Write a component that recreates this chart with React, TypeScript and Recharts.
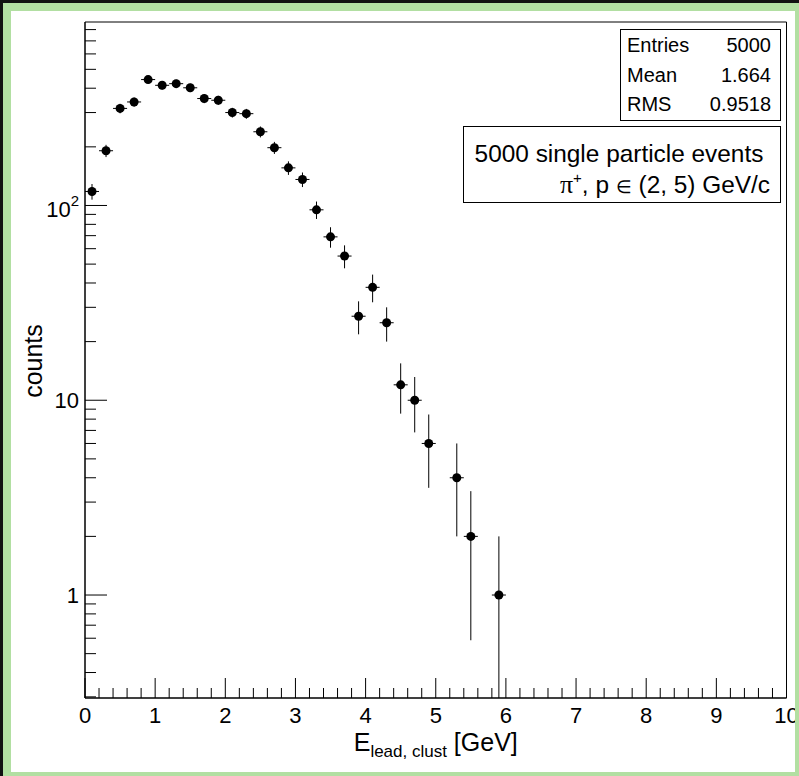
import React from 'react';
import { ScatterChart, Scatter, XAxis, YAxis, ErrorBar, ReferenceArea, Label } from 'recharts';

// histogram bins (centres, GeV) that have entries, and their counts
const BIN_CENTERS = [0.1, 0.3, 0.5, 0.7, 0.9, 1.1, 1.3, 1.5, 1.7, 1.9, 2.1, 2.3, 2.5, 2.7, 2.9, 3.1, 3.3, 3.5, 3.7, 3.9, 4.1, 4.3, 4.5, 4.7, 4.9, 5.3, 5.5, 5.9];
const COUNTS = [118, 191, 315, 340, 443, 414, 422, 402, 354, 347, 300, 296, 239, 198, 156, 136, 95, 69, 55, 27, 38, 25, 12, 10, 6, 4, 2, 1];
const BIN_HALF_WIDTH = 0.1;

const X_MAJOR = [0, 1, 2, 3, 4, 5, 6, 7, 8, 9, 10];
const X_LABELS = ['0', '1', '2', '3', '4', '5', '6', '7', '8', '9', '10'];
const Y_MAJOR = [1, 10, 100];
const Y_LABELS = ['1', '10', '10'];
const Y_EXPONENTS = ['', '', '2'];

const STAT_NAMES = ['Entries', 'Mean', 'RMS'];
const STAT_VALUES = ['5000', '1.664', '0.9518'];

const Y_MIN = 0.296;
const Y_MAX = 875;

const X_TICKS: number[] = [];
for (let i = 0; i <= 50; i++) X_TICKS.push(i / 5);

const Y_TICKS: number[] = [];
for (const p of [0.1, 1, 10, 100]) {
  for (let m = 1; m <= 9; m++) {
    const v = Number((m * p).toPrecision(2));
    if (v >= Y_MIN && v <= Y_MAX) Y_TICKS.push(v);
  }
}

const data = BIN_CENTERS.map((x, i) => {
  const n = COUNTS[i];
  const err = Math.sqrt(n);
  // lower error clipped at the bottom of the frame (log axis)
  return { x, y: n, ex: BIN_HALF_WIDTH, ey: [Math.min(err, n - Y_MIN), err] };
});

const FONT = '"Liberation Sans", Arial, Helvetica, sans-serif';

const XTick = (props: any) => {
  const { x, y, payload } = props;
  const idx = X_MAJOR.findIndex((m) => Math.abs(m - payload.value) < 1e-6);
  const major = idx >= 0;
  return (
    <g>
      <line x1={x} x2={x} y1={y} y2={y - (major ? 20 : 10)} stroke="#000" strokeWidth={1} />
      {major && (
        <text x={x} y={y + 25} textAnchor="middle" fontSize={22} fontFamily={FONT} fill="#000">
          {X_LABELS[idx]}
        </text>
      )}
    </g>
  );
};

const YTick = (props: any) => {
  const { x, y, payload } = props;
  const v = payload.value;
  const idx = Y_MAJOR.findIndex((m) => Math.abs(m - v) < 1e-9 * m);
  const major = idx >= 0;
  return (
    <g>
      <line x1={x} x2={x + (major ? 22 : 11)} y1={y} y2={y} stroke="#000" strokeWidth={1} />
      {major && (
        <text x={x - 6} y={y + (Y_EXPONENTS[idx] ? 12 : 8)} textAnchor="end" fontSize={22} fontFamily={FONT} fill="#000">
          {Y_LABELS[idx]}
          {Y_EXPONENTS[idx] && (
            <tspan fontSize={15} dy={-11}>{Y_EXPONENTS[idx]}</tspan>
          )}
        </text>
      )}
    </g>
  );
};

const Marker = (props: any) => <circle cx={props.cx} cy={props.cy} r={4.5} fill="#000" />;

export default function App() {
  return (
    <div style={{ position: 'fixed', left: 0, top: 0, width: 799, height: 776, background: '#fff', fontFamily: FONT }}>
      <ScatterChart width={799} height={776} margin={{ top: 22, right: 12.5, bottom: 0, left: 0 }}>
        <XAxis
          type="number"
          dataKey="x"
          domain={[0, 10]}
          ticks={X_TICKS}
          interval={0}
          tick={<XTick />}
          tickLine={false}
          tickSize={0}
          tickMargin={0}
          height={78}
          axisLine={{ stroke: '#000' }}
        >
          <Label
            content={(p: any) => {
              const vb = p.viewBox;
              return (
                <text x={vb.x + vb.width / 2} y={vb.y + 53} textAnchor="middle" fontSize={25} fontFamily={FONT} fill="#000">
                  E
                  <tspan fontSize={17} dy={6}>lead, clust</tspan>
                  <tspan dy={-6}> [GeV]</tspan>
                </text>
              );
            }}
          />
        </XAxis>
        <YAxis
          type="number"
          dataKey="y"
          scale="log"
          domain={[Y_MIN, Y_MAX]}
          allowDataOverflow
          ticks={Y_TICKS}
          interval={0}
          tick={<YTick />}
          tickLine={false}
          tickSize={0}
          tickMargin={0}
          width={85}
          axisLine={{ stroke: '#000' }}
        >
          <Label
            content={(p: any) => {
              const vb = p.viewBox;
              const cx = vb.x + 42;
              const cy = vb.y + vb.height / 2 + 1;
              return (
                <text x={cx} y={cy} transform={`rotate(-90, ${cx}, ${cy})`} textAnchor="middle" fontSize={25} fontFamily={FONT} fill="#000">
                  counts
                </text>
              );
            }}
          />
        </YAxis>
        <ReferenceArea x1={0} x2={10} y1={Y_MIN} y2={Y_MAX} fill="none" stroke="#000" strokeWidth={1} ifOverflow="visible" />
        <Scatter data={data} shape={<Marker />} isAnimationActive={false}>
          <ErrorBar dataKey="ey" direction="y" width={0} stroke="#000" strokeWidth={1} isAnimationActive={false} />
          <ErrorBar dataKey="ex" direction="x" width={0} stroke="#000" strokeWidth={1} isAnimationActive={false} />
        </Scatter>
      </ScatterChart>

      <svg width={799} height={776} style={{ position: 'absolute', left: 0, top: 0, pointerEvents: 'none' }}>
        <rect x={620.5} y={29.5} width={160} height={91} fill="#fff" stroke="#000" strokeWidth={1} />
        {STAT_NAMES.map((name, i) => (
          <g key={name}>
            <text x={627} y={52 + i * 29.5} fontSize={20} fontFamily={FONT} fill="#000">{name}</text>
            <text x={771} y={52 + i * 29.5} fontSize={20} fontFamily={FONT} fill="#000" textAnchor="end">{STAT_VALUES[i]}</text>
          </g>
        ))}
        <rect x={463.5} y={126.5} width={317} height={76} fill="#fff" stroke="#000" strokeWidth={1} />
        <text x={619} y={162} fontSize={24.4} fontFamily={FONT} fill="#000" textAnchor="middle">
          5000 single particle events
        </text>
        <text x={770} y={193} fontSize={24.4} fontFamily={FONT} fill="#000" textAnchor="end">
          <tspan fontFamily={'"Liberation Serif", serif'} fontSize={26}>π</tspan>
          <tspan fontSize={15} dy={-10}>+</tspan>
          <tspan dy={10}>, p </tspan>
          <tspan fontSize={18}>∈</tspan>
          <tspan> (2, 5) GeV/c</tspan>
        </text>
      </svg>

      <div
        style={{
          position: 'absolute',
          left: 0,
          top: 0,
          width: 799,
          height: 776,
          boxSizing: 'border-box',
          borderTop: '3px solid #111',
          borderLeft: '3px solid #111',
          pointerEvents: 'none',
        }}
      >
        <div
          style={{
            width: '100%',
            height: '100%',
            boxSizing: 'border-box',
            borderTop: '8px solid #b2dfa2',
            borderLeft: '8px solid #b2dfa2',
            borderRight: '4px solid #b2dfa2',
            borderBottom: '4px solid #b2dfa2',
          }}
        />
      </div>
    </div>
  );
}
